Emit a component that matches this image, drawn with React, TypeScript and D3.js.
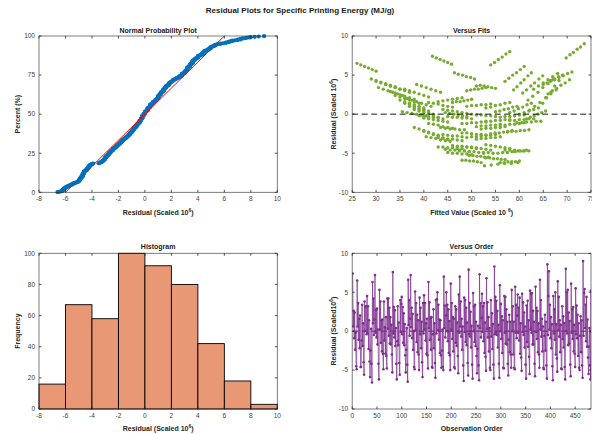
import * as d3 from "d3";

// residuals and fitted values in observation order (scaled 10^6)
const residual = [
  7.4, 0.6, 2.6, -0.9, 2.4, -2.4, -0.2, -4.5, -4.9,
  6.5, 0.6, 3.6, -1.1, 1.6, -2.2, 2.0, -4.6, -4.6,
  -1.2, 3.4, -1.9, 1.0, -4.0, -5.6, 3.8, 0.0, 3.1,
  3.2, -0.4, 4.5, -0.3, 3.2, -2.3, 1.4, -3.9, -5.9,
  -2.5, 0.3, -4.2, -6.6, 6.3, 1.0, 4.2, -0.5, 1.5,
  7.2, -0.2, 2.7, -0.8, 2.9, -1.7, 0.2, -4.2, -6.2,
  5.3, 0.2, 3.8, -1.5, 1.4, -2.6, 1.5, -2.9, -4.9,
  3.8, -1.2, 0.5, -2.9, 1.8, -3.2, -4.8, 4.2, 0.3,
  4.2, -0.6, 3.0, -1.6, 1.8, -1.7, 0.8, -3.0, -5.3,
  7.6, -0.3, 3.1, -0.8, 2.7, -1.9, 0.4, -4.2, -6.2,
  -1.3, 3.2, -1.8, 1.1, -4.1, -5.6, 4.0, -0.1, 3.5,
  4.4, -0.4, 3.1, -1.5, 2.3, -1.8, 0.9, -3.1, -5.3,
  -2.4, 0.4, -4.3, -6.5, 6.6, 0.8, 4.0, -0.6, 1.6,
  7.2, 0.5, 3.0, -0.9, 2.2, -2.4, 0.0, -4.6, -4.9,
  5.1, 0.1, 3.6, -1.4, 2.1, -2.7, 1.4, -3.0, -5.0,
  4.3, -0.4, 3.0, -2.2, 1.2, -4.0, -5.9, 3.6, -0.3,
  4.6, 0.2, 3.6, -1.2, 1.0, -2.9, 1.6, -3.1, -4.8,
  6.3, 0.4, 3.7, -1.1, 1.7, -2.4, 1.8, -4.6, -4.7,
  -0.4, 2.8, -2.2, 1.0, -4.1, -6.0, 4.0, -0.3, 4.1,
  5.0, 0.1, 3.4, -1.1, 1.5, -2.8, 1.4, -3.1, -4.7,
  -2.5, 0.2, -4.6, -5.0, 7.0, 0.4, 3.3, -0.8, 2.0,
  5.0, 0.0, 3.4, -1.3, 2.8, -2.8, 1.3, -3.1, -5.0,
  6.1, 0.2, 3.6, -1.0, 1.8, -2.6, 1.6, -4.6, -4.8,
  3.2, -1.5, 2.8, -1.9, 1.1, -3.2, -5.4, 4.7, -0.2,
  7.0, 0.6, 3.8, -0.7, 1.6, -2.4, 0.6, -4.4, -6.4,
  4.3, -0.1, 4.0, -1.4, 3.0, -1.8, 1.1, -4.1, -5.7,
  7.9, -0.4, 3.6, -0.7, 2.5, -2.1, 0.7, -4.3, -6.1,
  4.9, 0.0, 3.2, -1.4, 3.4, -1.9, 1.2, -3.2, -5.4,
  -2.3, 0.7, -4.4, -6.3, 7.3, 0.4, 3.6, -0.8, 1.7,
  4.8, -0.1, 3.2, -1.3, 3.6, -2.8, 1.1, -3.3, -5.1,
  6.8, 0.3, 3.7, -0.8, 1.8, -2.6, 0.4, -4.7, -5.0,
  4.0, -0.7, 2.3, -2.3, 0.9, -4.3, -6.1, 8.3, -0.4,
  4.4, -0.2, 3.9, -0.5, 2.6, -2.1, 0.8, -4.2, -6.0,
  5.9, 0.0, 3.5, -1.0, 1.9, -2.8, 1.4, -4.7, -4.8,
  4.5, -0.2, 4.4, -1.6, 2.8, -1.7, 1.2, -4.2, -5.7,
  -1.1, 2.1, -2.7, 1.2, -3.0, -4.7, 5.3, 0.0, 3.2,
  -3.0, 1.2, -4.7, -4.9, 5.7, -0.2, 3.4, -0.9, 2.0,
  4.7, -0.2, 3.0, -1.2, 4.3, -2.9, 1.0, -3.4, -5.1,
  4.8, -0.1, 3.7, -0.5, 2.4, -2.1, 0.6, -4.3, -6.1,
  3.3, -1.4, 3.9, -2.0, 1.4, -3.3, -5.5, 5.2, 0.2,
  4.8, -0.2, 4.9, -1.7, 2.6, -1.7, 1.2, -4.2, -5.8,
  5.7, -0.1, 3.0, -1.0, 2.6, -2.7, 1.0, -3.0, -4.7,
  6.6, 0.2, 4.0, -0.7, 1.6, -2.6, 0.6, -4.7, -4.9,
  -0.6, 2.1, -2.5, 1.2, -4.4, -6.1, 8.6, -0.5, 4.5,
  7.7, 0.2, 3.4, -0.9, 1.8, -2.2, 0.9, -4.5, -6.3,
  4.5, -0.3, 2.8, -1.1, 5.0, -3.0, 0.9, -3.5, -5.2,
  6.4, 0.1, 4.4, -0.7, 1.4, -2.7, 0.8, -4.8, -4.9,
  3.2, -1.0, 1.9, -2.1, 1.0, -4.6, -6.2, 8.0, 0.0,
  5.0, -0.3, 5.3, -1.8, 2.4, -1.6, 1.3, -4.3, -5.8,
  6.1, -0.2, 2.8, -1.0, 3.1, -2.6, 0.8, -2.9, -4.6,
  5.5, -0.4, 3.3, -0.9, 2.1, -3.2, 1.0, -4.7, -5.0,
  -0.6, 1.9, -2.7, 1.4, -4.4, -6.0, 9.0, -0.6, 4.9,
  5.4, 0.4, 3.4, -1.3, 4.4, -2.0, 1.5, -3.4, -5.5,
  -2.0, 0.4, -4.4, -6.2, 5.2, -0.1, 3.5, -0.6, 2.2,
];

const fitted = [
  41.8, 44, 66.0, 53, 34, 48, 59, 44.5, 52.5,
  26.0, 38, 51.0, 59.5, 43, 40, 36.5, 57, 47.5,
  41, 30.5, 52, 49, 46, 53.0, 65.0, 50, 58.8,
  63, 56, 29, 45, 36, 57.5, 36, 53, 48.0,
  54.0, 55.0, 49, 52.7, 54.0, 37, 30, 40, 46.0,
  69.8, 39, 60.7, 58, 33, 38, 58.0, 43, 56.0,
  46.4, 44.5, 38.5, 56, 64.9, 44, 41, 40.5, 45,
  32, 48, 62.1, 50, 35, 51, 58.5, 57.0, 35.5,
  66.5, 61.5, 49.0, 51, 61.8, 43.5, 53, 43, 49.5,
  70.6, 40, 61.5, 59, 34, 39, 58.9, 44, 56.8,
  42, 31.5, 53, 50, 47, 53.8, 65.8, 51, 59.5,
  67.4, 62.3, 49.8, 52, 62.8, 44.5, 54, 44, 50.3,
  54.9, 55.9, 50, 54.1, 54.8, 38, 31, 41, 46.8,
  42.6, 45, 66.9, 54, 35, 49, 60, 45.5, 53.5,
  47.2, 45.4, 39.5, 57, 65.7, 45, 42, 41.5, 46,
  30, 46, 37, 58.4, 37, 54, 48.8, 64, 57,
  57.8, 36.5, 33, 49, 63.2, 51, 36, 52, 59.1,
  26.8, 39, 51.8, 60.5, 44, 41, 37.5, 58, 48.5,
  47, 38, 59.3, 38, 55, 49.6, 65, 58, 31,
  58.6, 37.5, 34, 50, 64.3, 52, 37, 53, 59.7,
  50, 61, 46.5, 54.5, 43.4, 46, 67.8, 55, 36,
  48.1, 46.3, 40.5, 58, 66.6, 46, 43, 42.5, 47,
  27.6, 40, 52.6, 61.5, 45, 42, 38.5, 59, 49.5,
  50.6, 53, 63.9, 45.5, 55, 45, 51.1, 68.3, 63.1,
  55.6, 39, 32, 42, 47.6, 55.8, 56.8, 51, 55.5,
  66.6, 52, 60.3, 43, 32.5, 54, 51, 48, 54.6,
  71.3, 41, 62.4, 60, 35, 40, 59.8, 45, 57.6,
  69.2, 63.9, 51.4, 54, 64.9, 46.5, 56, 46, 51.9,
  56.7, 57.7, 52, 56.9, 56.4, 40, 33, 43, 48.4,
  48.9, 47.2, 41.5, 59, 67.4, 47, 44, 43.5, 48,
  44.2, 47, 68.7, 56, 37, 51, 62, 47.5, 55.5,
  63.2, 61, 36, 41, 60.7, 46, 58.4, 72.1, 42,
  66, 59, 32, 48, 39, 60.2, 39, 56, 50.4,
  28.4, 41, 53.4, 62.5, 46, 43, 39.5, 60, 50.5,
  67.4, 53, 61.0, 44, 33.5, 55, 52, 49, 55.4,
  51, 65.5, 53, 38, 54, 60.3, 59.4, 38.5, 35,
  44, 40.5, 61, 51.5, 29.2, 42, 54.2, 63.5, 47,
  49.8, 48.1, 42.5, 60, 68.3, 48, 45, 44.5, 49,
  67, 60, 33, 49, 40, 61.1, 40, 57, 51.2,
  52.2, 55, 66.0, 47.5, 57, 47, 52.7, 70.1, 64.7,
  68.2, 54, 61.8, 45, 34.5, 56, 53, 50, 56.2,
  60.2, 39.5, 36, 52, 66.6, 54, 39, 55, 60.9,
  45.0, 48, 69.6, 57, 38, 52, 63, 48.5, 56.5,
  62, 37, 42, 61.6, 47, 59.2, 72.8, 43, 64.1,
  57.2, 41, 34, 44, 49.2, 57.6, 58.6, 53, 58.3,
  50.6, 49.0, 43.5, 61, 69.1, 49, 46, 45.5, 50,
  45.8, 49, 70.5, 58, 39, 53, 64, 49.5, 57.5,
  35, 45, 50.0, 58.5, 59.5, 54, 59.7, 58.0, 42,
  69.0, 55, 62.5, 46, 35.5, 57, 54, 51, 57.0,
  61.0, 40.5, 37, 53, 67.7, 55, 40, 56, 61.5,
  30.0, 43, 55.0, 64.5, 48, 45, 41.5, 62, 52.5,
  63, 38, 43, 62.5, 48, 60.0, 73.6, 44, 64.9,
  71.0, 65.5, 53.0, 56, 67.0, 48.5, 58, 48, 53.5,
  62.0, 41, 58, 52.0, 68, 61, 34, 50, 41,
];

const histEdges = [-8, -6, -4, -2, 0, 2, 4, 6, 8, 10];
const histCounts = [16, 67, 58, 100, 92, 80, 42, 18, 3];

const refLineX = [-6, 6];
const refLineY = [0, 100];

const residTicks = [-8, -6, -4, -2, 0, 2, 4, 6, 8, 10];
const percentTicks = [0, 25, 50, 75, 100];
const fitTicks = [25, 30, 35, 40, 45, 50, 55, 60, 65, 70, 75];
const residYTicks = [-10, -5, 0, 5, 10];
const freqTicks = [0, 20, 40, 60, 80, 100];
const orderTicks = [0, 50, 100, 150, 200, 250, 300, 350, 400, 450];

const FONT = "'Liberation Sans', Arial, Helvetica, sans-serif";
const AX = "#262626";
const TICK_LEN = 2.5;

const LEFT = { x0: 39, x1: 277.3 };
const RIGHT = { x0: 352.2, x1: 591 };
const TOP = { y0: 36, y1: 192.3 };
const BOT = { y0: 253.3, y1: 409 };

function Frame({ xs, ys, xTicks, yTicks, box }) {
  const [x0, x1] = xs.range();
  const [y1, y0] = ys.range();
  return (
    <g fontFamily={FONT}>
      <rect x={x0} y={y0} width={x1 - x0} height={y1 - y0} fill="none" stroke={AX} strokeOpacity={0.75} strokeWidth={0.8} />
      {xTicks.map((t) => (
        <g key={"x" + t}>
          <line x1={xs(t)} x2={xs(t)} y1={y1} y2={y1 - TICK_LEN} stroke={AX} strokeWidth={0.8} />
          {box && <line x1={xs(t)} x2={xs(t)} y1={y0} y2={y0 + TICK_LEN} stroke={AX} strokeWidth={0.8} />}
          <text x={xs(t)} y={y1 + 9} textAnchor="middle" fontSize={6.5} fill="#404040">{t}</text>
        </g>
      ))}
      {yTicks.map((t) => (
        <g key={"y" + t}>
          <line x1={x0} x2={x0 + TICK_LEN} y1={ys(t)} y2={ys(t)} stroke={AX} strokeWidth={0.8} />
          {box && <line x1={x1} x2={x1 - TICK_LEN} y1={ys(t)} y2={ys(t)} stroke={AX} strokeWidth={0.8} />}
          <text x={x0 - 4} y={ys(t) + 2.3} textAnchor="end" fontSize={6.5} fill="#404040">{t}</text>
        </g>
      ))}
    </g>
  );
}

function Title({ x, y, children, size = 7 }) {
  return (
    <text x={x} y={y} textAnchor="middle" fontFamily={FONT} fontWeight="bold" fontSize={size} fill="#1a1a1a">
      {children}
    </text>
  );
}

function YLabel({ x, y, children }) {
  return (
    <text transform={`translate(${x},${y}) rotate(-90)`} textAnchor="middle" fontFamily={FONT} fontWeight="bold" fontSize={7} fill="#262626">
      {children}
    </text>
  );
}

const Sup = ({ s = "6" }) => (
  <>
    <tspan dy={-3} fontSize={5}>{s}</tspan>
    <tspan dy={3}>)</tspan>
  </>
);

export default function App() {
  const n = residual.length;

  // normal probability plot (percent on linear axis)
  const sorted = [...residual].sort((a, b) => a - b);
  const pX = d3.scaleLinear().domain([-8, 10]).range([LEFT.x0, LEFT.x1]);
  const pY = d3.scaleLinear().domain([0, 100]).range([TOP.y1, TOP.y0]);

  // versus fits
  const fX = d3.scaleLinear().domain([25, 75]).range([RIGHT.x0, RIGHT.x1]);
  const fY = d3.scaleLinear().domain([-10, 10]).range([TOP.y1, TOP.y0]);

  // histogram
  const hX = d3.scaleLinear().domain([-8, 10]).range([LEFT.x0, LEFT.x1]);
  const hY = d3.scaleLinear().domain([0, 100]).range([BOT.y1, BOT.y0]);

  // versus order
  const oX = d3.scaleLinear().domain([0, 482]).range([RIGHT.x0, RIGHT.x1]);
  const oY = d3.scaleLinear().domain([-10, 10]).range([BOT.y1, BOT.y0]);
  const orderLine = d3
    .line<number>()
    .x((_, i) => oX(i + 1))
    .y((d) => oY(d))(residual);

  return (
    <svg width={592} height={434} style={{ position: "absolute", left: 0, top: 0, background: "#fff" }}>
      <defs>
        <clipPath id="clipOrder">
          <rect x={RIGHT.x0} y={BOT.y0} width={RIGHT.x1 - RIGHT.x0} height={BOT.y1 - BOT.y0} />
        </clipPath>
      </defs>
      <rect width={592} height={434} fill="#fff" />

      <Title x={300} y={13} size={8}>Residual Plots for Specific Printing Energy (MJ/g)</Title>

      {/* Normal probability plot */}
      <g>
        {sorted.map((v, i) => (
          <circle key={i} cx={pX(v)} cy={pY(((i + 0.5) / n) * 100)} r={2.1} fill="#0072BD" />
        ))}
        <line x1={pX(refLineX[0])} y1={pY(refLineY[0])} x2={pX(refLineX[1])} y2={pY(refLineY[1])} stroke="#ff0000" strokeWidth={1} />
        <Frame xs={pX} ys={pY} xTicks={residTicks} yTicks={percentTicks} box />
        <Title x={(LEFT.x0 + LEFT.x1) / 2} y={32.5}>Normal Probability Plot</Title>
        <text x={(LEFT.x0 + LEFT.x1) / 2} y={215} textAnchor="middle" fontFamily={FONT} fontWeight="bold" fontSize={7} fill="#262626">
          Residual (Scaled 10<Sup />
        </text>
        <YLabel x={19.5} y={(TOP.y0 + TOP.y1) / 2}>Percent (%)</YLabel>
      </g>

      {/* Versus fits */}
      <g>
        {residual.map((v, i) => (
          <circle key={i} cx={fX(fitted[i])} cy={fY(v)} r={1.7} fill="#77AC30" />
        ))}
        <line x1={RIGHT.x0} x2={RIGHT.x1} y1={fY(0)} y2={fY(0)} stroke="#000" strokeWidth={0.9} strokeDasharray="6,3.5" />
        <Frame xs={fX} ys={fY} xTicks={fitTicks} yTicks={residYTicks} box />
        <Title x={(RIGHT.x0 + RIGHT.x1) / 2} y={32.5}>Versus Fits</Title>
        <text x={(RIGHT.x0 + RIGHT.x1) / 2} y={215} textAnchor="middle" fontFamily={FONT} fontWeight="bold" fontSize={7} fill="#262626">
          Fitted Value (Scaled 10 <Sup />
        </text>
        <YLabel x={336} y={(TOP.y0 + TOP.y1) / 2}>
          Residual (Scaled 10<Sup />
        </YLabel>
      </g>

      {/* Histogram */}
      <g>
        {histCounts.map((c, i) => (
          <rect
            key={i}
            x={hX(histEdges[i])}
            y={hY(c)}
            width={hX(histEdges[i + 1]) - hX(histEdges[i])}
            height={hY(0) - hY(c)}
            fill="#E89875"
            stroke="#000"
            strokeWidth={0.9}
          />
        ))}
        <Frame xs={hX} ys={hY} xTicks={residTicks} yTicks={freqTicks} box />
        <Title x={(LEFT.x0 + LEFT.x1) / 2} y={248.5}>Histogram</Title>
        <text x={(LEFT.x0 + LEFT.x1) / 2} y={431} textAnchor="middle" fontFamily={FONT} fontWeight="bold" fontSize={7} fill="#262626">
          Residual (Scaled 10<Sup />
        </text>
        <YLabel x={19.5} y={(BOT.y0 + BOT.y1) / 2}>Frequency</YLabel>
      </g>

      {/* Versus order */}
      <g clipPath="url(#clipOrder)">
        <line x1={RIGHT.x0} x2={RIGHT.x1} y1={oY(0)} y2={oY(0)} stroke="#000" strokeWidth={0.9} strokeDasharray="6,3.5" />
        <path d={orderLine} fill="none" stroke="#7E2F8E" strokeOpacity={0.7} strokeWidth={1} />
        {residual.map((v, i) => (
          <circle key={i} cx={oX(i + 1)} cy={oY(v)} r={1.3} fill="#7E2F8E" />
        ))}
      </g>
      <g>
        <Frame xs={oX} ys={oY} xTicks={orderTicks} yTicks={residYTicks} box />
        <Title x={(RIGHT.x0 + RIGHT.x1) / 2} y={248.5}>Versus Order</Title>
        <text x={(RIGHT.x0 + RIGHT.x1) / 2} y={431} textAnchor="middle" fontFamily={FONT} fontWeight="bold" fontSize={7} fill="#262626">
          Observation Order
        </text>
        <YLabel x={336} y={(BOT.y0 + BOT.y1) / 2}>
          Residual (Scaled10<Sup />
        </YLabel>
      </g>
    </svg>
  );
}
